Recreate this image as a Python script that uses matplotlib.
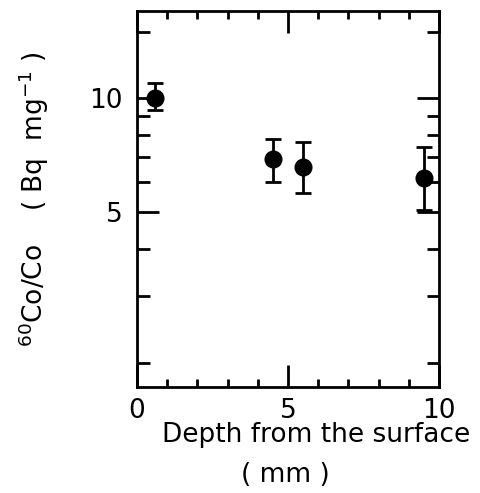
import numpy as np
import matplotlib
matplotlib.use('Agg')
import matplotlib.pyplot as plt
from matplotlib.ticker import FixedLocator, NullFormatter

# Profundidade (mm) e atividade especifica 60Co/Co (Bq/mg)
depth = [0.6, 4.5, 5.5, 9.5]
activity = [10.0, 6.9, 6.6, 6.15]
err_up = [10.96, 7.8, 7.66, 7.46]
err_down = [9.3, 6.0, 5.61, 5.06]

y_major = [5, 10]
y_minor = [2, 3, 4, 6, 7, 8, 9, 15]
x_major = [0, 5, 10]
x_minor = [1, 2, 3, 4, 6, 7, 8, 9]

plt.rcParams['font.family'] = ['DejaVu Sans']

fig = plt.figure(figsize=(4.81, 4.93), dpi=100)
ax = fig.add_axes([0.2848, 0.215, 0.628, 0.7627])

yerr = [np.array(activity) - np.array(err_down), np.array(err_up) - np.array(activity)]
ax.errorbar(depth, activity, yerr=yerr, fmt='o', color='black', ms=12,
            elinewidth=2, capsize=6, capthick=2)

ax.set_yscale('log')
ax.set_xlim(0, 10)
ax.set_ylim(1.73, 17.0)

ax.yaxis.set_major_locator(FixedLocator(y_major))
ax.yaxis.set_minor_locator(FixedLocator(y_minor))
ax.yaxis.set_minor_formatter(NullFormatter())
ax.set_yticklabels([str(v) for v in y_major])
ax.xaxis.set_major_locator(FixedLocator(x_major))
ax.xaxis.set_minor_locator(FixedLocator(x_minor))
ax.set_xticklabels([str(v) for v in x_major])

ax.tick_params(which='both', direction='in', top=True, right=True, width=2,
               labelsize=19, colors='black')
ax.tick_params(which='major', length=16, pad=8)
ax.tick_params(axis='y', which='minor', length=9)
ax.tick_params(axis='x', which='minor', length=6)
ax.tick_params(axis='y', which='major', pad=10)
for s in ax.spines.values():
    s.set_linewidth(2)

ax.set_ylabel('$^{60}$Co/Co    ( Bq  mg$^{-1}$ )', fontsize=19, labelpad=28)
fig.text(0.657, 0.118, 'Depth from the surface', fontsize=19, ha='center', va='center')
fig.text(0.593, 0.037, '( mm )', fontsize=19, ha='center', va='center')

fig.savefig('out.png', dpi=100)
